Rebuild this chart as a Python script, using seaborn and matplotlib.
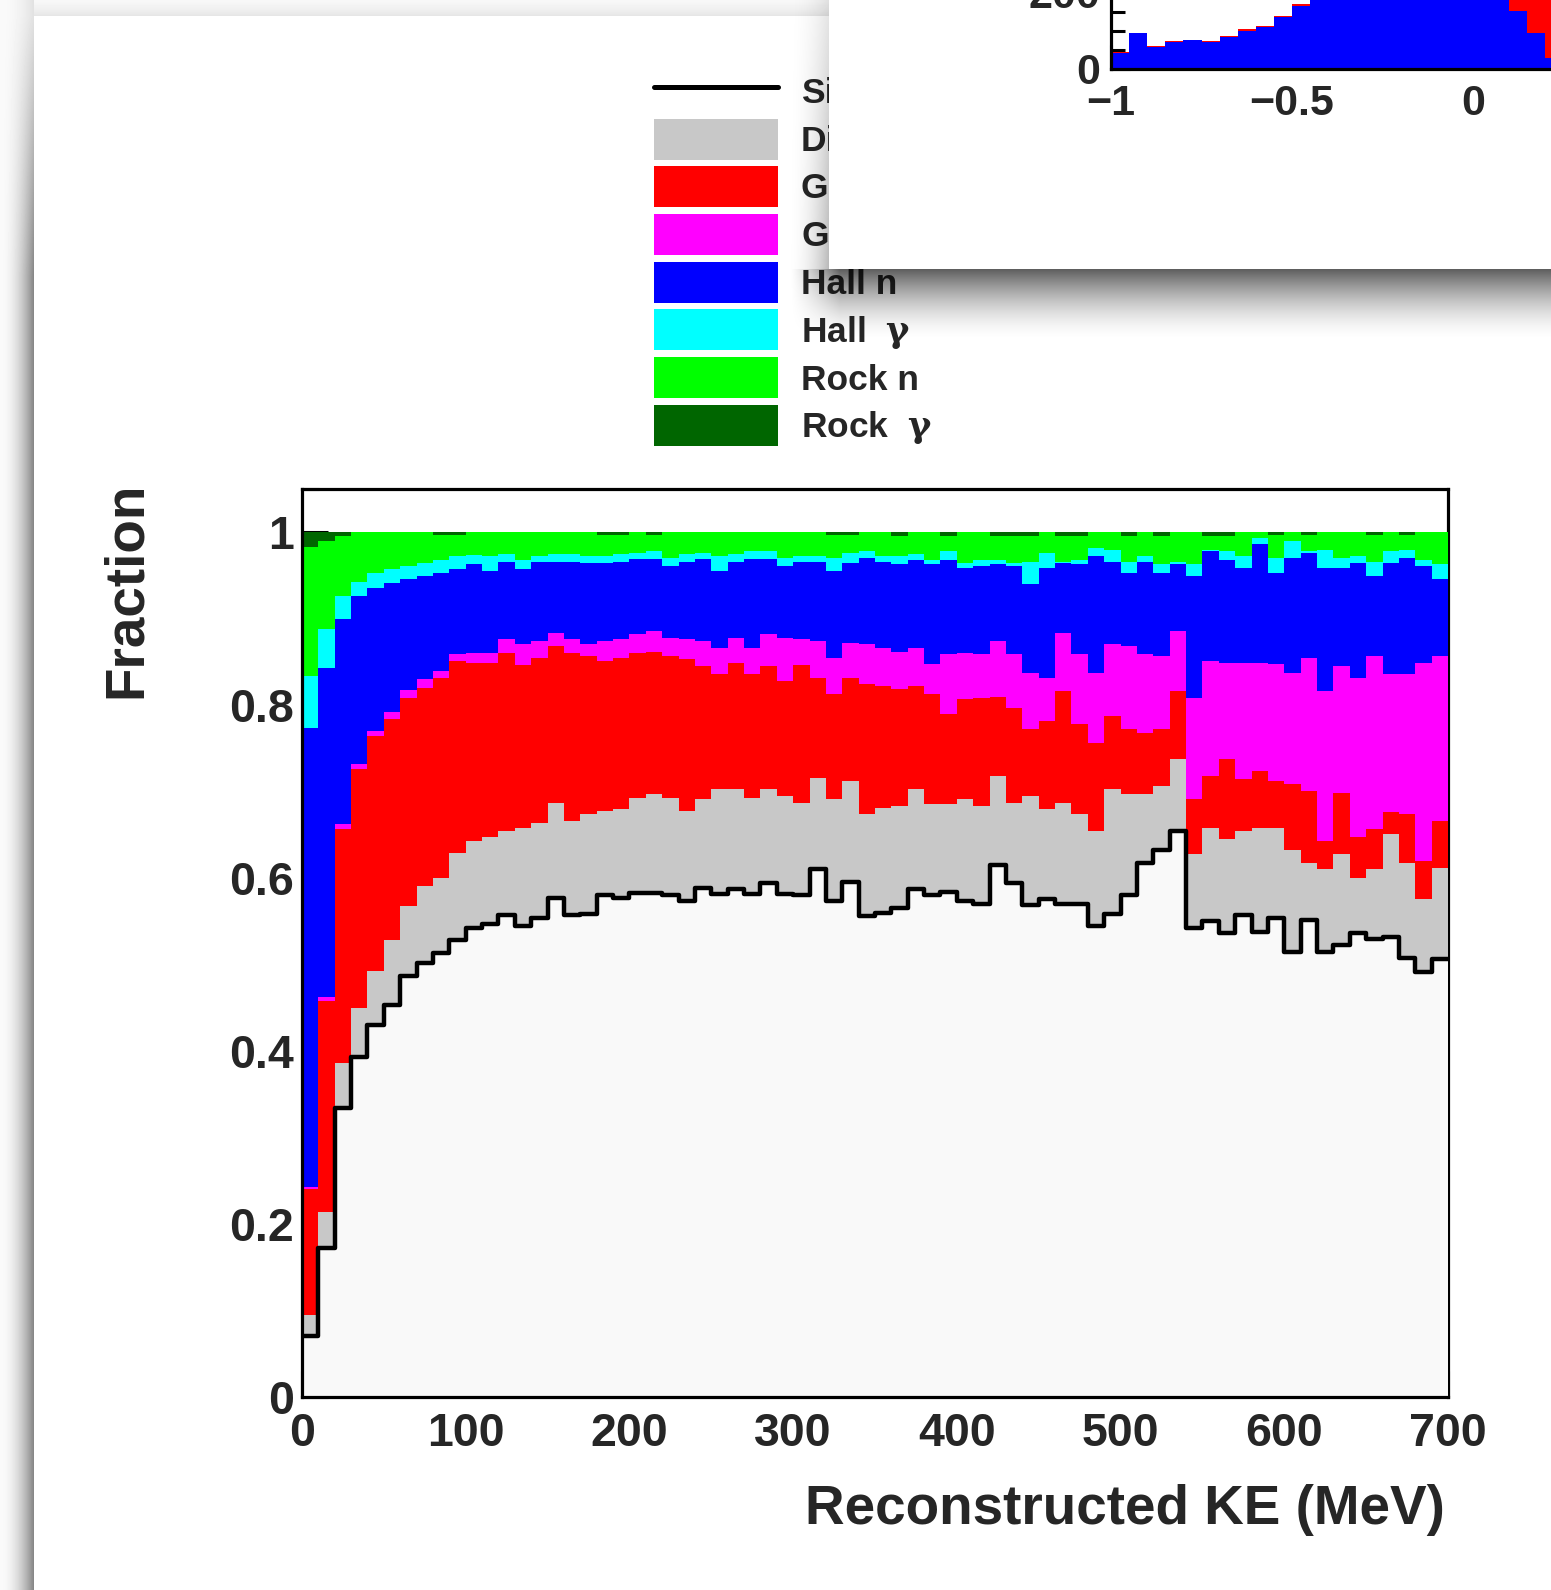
import numpy as np
import pandas as pd
import matplotlib
matplotlib.use("Agg")
import matplotlib.pyplot as plt
import seaborn as sns
from matplotlib.patches import Patch
from matplotlib.lines import Line2D
from matplotlib.ticker import MultipleLocator, FuncFormatter

# ---------------- data (cumulative fraction at top of each layer, 10 MeV bins) -------------
ke_edges = list(range(0, 710, 10))

top_signal = [0.070, 0.172, 0.334, 0.393, 0.430, 0.453, 0.487, 0.502, 0.513, 0.528,
              0.542, 0.547, 0.557, 0.545, 0.554, 0.577, 0.557, 0.559, 0.580, 0.577,
              0.583, 0.583, 0.580, 0.573, 0.589, 0.582, 0.588, 0.582, 0.594, 0.582,
              0.580, 0.611, 0.574, 0.595, 0.556, 0.560, 0.566, 0.588, 0.580, 0.584,
              0.574, 0.570, 0.615, 0.594, 0.569, 0.576, 0.570, 0.570, 0.545, 0.559,
              0.580, 0.618, 0.633, 0.654, 0.542, 0.550, 0.536, 0.557, 0.538, 0.554,
              0.515, 0.552, 0.515, 0.523, 0.537, 0.530, 0.532, 0.508, 0.491, 0.507]

top_dirt = [0.095, 0.214, 0.386, 0.450, 0.493, 0.528, 0.568, 0.591, 0.600, 0.629,
            0.643, 0.647, 0.655, 0.658, 0.664, 0.687, 0.666, 0.674, 0.678, 0.680,
            0.693, 0.697, 0.693, 0.678, 0.692, 0.703, 0.703, 0.693, 0.703, 0.695,
            0.687, 0.716, 0.692, 0.712, 0.674, 0.681, 0.683, 0.703, 0.686, 0.686,
            0.692, 0.684, 0.718, 0.687, 0.695, 0.680, 0.687, 0.674, 0.655, 0.703,
            0.697, 0.697, 0.707, 0.738, 0.628, 0.658, 0.645, 0.655, 0.658, 0.658,
            0.632, 0.618, 0.611, 0.628, 0.600, 0.611, 0.651, 0.617, 0.576, 0.612]

top_gar_n = [0.240, 0.458, 0.657, 0.726, 0.764, 0.784, 0.808, 0.820, 0.832, 0.851,
             0.849, 0.849, 0.860, 0.847, 0.855, 0.868, 0.860, 0.857, 0.851, 0.855,
             0.860, 0.862, 0.857, 0.853, 0.845, 0.836, 0.849, 0.836, 0.845, 0.828,
             0.847, 0.832, 0.813, 0.832, 0.825, 0.822, 0.819, 0.822, 0.813, 0.790,
             0.807, 0.808, 0.810, 0.797, 0.772, 0.782, 0.816, 0.778, 0.756, 0.788,
             0.772, 0.768, 0.772, 0.816, 0.692, 0.718, 0.738, 0.715, 0.724, 0.712,
             0.709, 0.701, 0.643, 0.699, 0.647, 0.657, 0.676, 0.674, 0.620, 0.666]

top_gar_g = [0.243, 0.462, 0.663, 0.732, 0.770, 0.792, 0.818, 0.830, 0.840, 0.859,
             0.860, 0.860, 0.876, 0.871, 0.874, 0.883, 0.876, 0.871, 0.874, 0.876,
             0.882, 0.886, 0.878, 0.876, 0.874, 0.866, 0.878, 0.866, 0.882, 0.878,
             0.876, 0.874, 0.855, 0.872, 0.871, 0.866, 0.862, 0.866, 0.848, 0.859,
             0.860, 0.859, 0.874, 0.859, 0.837, 0.832, 0.883, 0.859, 0.837, 0.871,
             0.869, 0.859, 0.857, 0.886, 0.808, 0.851, 0.849, 0.849, 0.849, 0.848,
             0.837, 0.855, 0.816, 0.845, 0.832, 0.857, 0.836, 0.836, 0.849, 0.857]

top_hall_n = [0.774, 0.843, 0.900, 0.926, 0.935, 0.941, 0.946, 0.949, 0.953, 0.957,
              0.963, 0.955, 0.966, 0.957, 0.966, 0.966, 0.966, 0.964, 0.964, 0.966,
              0.969, 0.969, 0.961, 0.966, 0.969, 0.955, 0.966, 0.969, 0.969, 0.961,
              0.966, 0.966, 0.955, 0.964, 0.970, 0.966, 0.963, 0.968, 0.963, 0.968,
              0.959, 0.961, 0.963, 0.961, 0.940, 0.959, 0.965, 0.963, 0.972, 0.966,
              0.953, 0.966, 0.953, 0.963, 0.949, 0.978, 0.968, 0.959, 0.986, 0.953,
              0.970, 0.976, 0.959, 0.959, 0.965, 0.949, 0.965, 0.970, 0.961, 0.946]

top_hall_g = [0.834, 0.888, 0.926, 0.943, 0.953, 0.957, 0.961, 0.965, 0.968, 0.972,
              0.974, 0.972, 0.975, 0.968, 0.972, 0.975, 0.975, 0.972, 0.972, 0.975,
              0.976, 0.978, 0.970, 0.975, 0.976, 0.972, 0.975, 0.978, 0.978, 0.970,
              0.972, 0.972, 0.970, 0.976, 0.978, 0.972, 0.972, 0.975, 0.968, 0.978,
              0.965, 0.968, 0.968, 0.965, 0.966, 0.976, 0.966, 0.968, 0.982, 0.980,
              0.966, 0.972, 0.963, 0.966, 0.963, 0.980, 0.978, 0.972, 0.993, 0.970,
              0.990, 0.978, 0.980, 0.970, 0.972, 0.966, 0.978, 0.980, 0.968, 0.963]

top_rock_n = [0.983, 0.990, 0.996, 1.000, 1.000, 1.000, 1.000, 1.000, 0.997, 0.997,
              1.000, 1.000, 1.000, 1.000, 1.000, 1.000, 1.000, 1.000, 0.997, 0.997,
              1.000, 0.997, 1.000, 1.000, 1.000, 1.000, 1.000, 1.000, 1.000, 1.000,
              1.000, 1.000, 0.997, 0.997, 1.000, 1.000, 0.996, 1.000, 1.000, 0.996,
              1.000, 1.000, 0.996, 0.996, 0.996, 1.000, 0.996, 0.996, 1.000, 1.000,
              0.996, 1.000, 0.996, 1.000, 1.000, 0.996, 0.996, 1.000, 1.000, 0.997,
              1.000, 0.997, 1.000, 1.000, 1.000, 0.997, 1.000, 0.997, 1.000, 1.000]

top_rock_g = [1.0] * 70

categories = ["Signal", "Dirt", "GAr n", "GAr  $\\mathrm{\\gamma}$", "Hall n",
              "Hall  $\\mathrm{\\gamma}$", "Rock n", "Rock  $\\mathrm{\\gamma}$"]
colors = ["#f9f9f9", "#c8c8c8", "#ff0000", "#ff00ff", "#0000ff",
          "#00ffff", "#00ff00", "#006600"]

# inset (partially visible window): 0.05-wide bins from -1
inset_edges = [round(-1 + 0.05 * i, 2) for i in range(26)]
inset_blue = [42, 94, 57, 70, 75, 72, 83, 101, 110, 136, 166, 200, 230,
              255, 280, 300, 315, 330, 340, 345, 340, 320, 153, 96, 29]
inset_red = [4, 0, 4, 4, 2, 2, 3, 4, 4, 4, 4, 4, 4,
             4, 4, 4, 4, 5, 5, 6, 8, 20, 150, 200, 250]

# ---------------- figure ----------------
W, H, DPI = 1551, 1590, 100
sns.set_style("ticks")
plt.rcParams['font.family'] = ['Liberation Sans', 'DejaVu Sans']
plt.rcParams['font.weight'] = 'bold'
plt.rcParams['axes.labelweight'] = 'bold'
plt.rcParams['mathtext.fontset'] = 'custom'
plt.rcParams['mathtext.rm'] = 'DejaVu Serif'
plt.rcParams['mathtext.it'] = 'DejaVu Serif:italic'

fig = plt.figure(figsize=(W / DPI, H / DPI), dpi=DPI)
fig.patch.set_facecolor("white")

def fx(px):
    return px / W

def fy(py):
    return 1 - py / H

# background: screenshot canvas with shadow
bg = fig.add_axes([0, 0, 1, 1], zorder=-5)
yy, xx = np.mgrid[0:H, 0:W].astype(np.float32)
CX, CY = 34.0, 16.0
amp = 0.10 + 0.38 * np.clip((yy - CY) / 260.0, 0, 1)
left = amp * np.clip(xx / CX, 0, 1) ** 2.0 + 0.02
top = 0.03 + 0.075 * np.clip(yy / CY, 0, 1) ** 1.5
alpha_bg = np.where(xx < CX, left, top)
alpha_bg = np.where((xx >= CX) & (yy >= CY), 0.0, alpha_bg)
bg.imshow(1 - alpha_bg, cmap="gray", vmin=0, vmax=1, extent=(0, W, H, 0),
          aspect="auto", interpolation="nearest")
bg.set_xlim(0, W)
bg.set_ylim(H, 0)
bg.set_axis_off()

# ---------------- main stacked fraction histogram ----------------
edges = [float(e) for e in ke_edges]
centers = [(a + b) / 2 for a, b in zip(edges[:-1], edges[1:])]
tops = np.vstack([top_signal, top_dirt, top_gar_n, top_gar_g, top_hall_n,
                  top_hall_g, top_rock_n, top_rock_g])
fractions = np.diff(np.vstack([np.zeros(len(centers)), tops]), axis=0)

rows = []
for name, frac in zip(categories, fractions):
    for c, f in zip(centers, frac):
        rows.append({"KE": c, "fraction": float(f), "component": name})
df = pd.DataFrame(rows)
palette = dict(zip(categories, colors))

ax = fig.add_axes([fx(302), fy(1397), fx(1448 - 302), (1397 - 489) / H], zorder=1)
ax.set_facecolor("white")
sns.histplot(data=df, x="KE", weights="fraction", hue="component",
             hue_order=categories[::-1], multiple="stack", bins=edges,
             element="step", fill=True, palette=palette, alpha=1,
             linewidth=0, edgecolor="none", antialiased=False,
             legend=False, ax=ax)
sdf = pd.DataFrame({"KE": centers, "signal": top_signal})
sns.histplot(data=sdf, x="KE", weights="signal", bins=edges, element="step",
             fill=False, color="black", linewidth=3.2, ax=ax)

ax.set_xlim(0, 700)
ax.set_ylim(0, 1.05)
ax.xaxis.set_major_locator(MultipleLocator(100))
ax.xaxis.set_minor_locator(MultipleLocator(20))
ax.yaxis.set_major_locator(MultipleLocator(0.2))
ax.yaxis.set_minor_locator(MultipleLocator(0.05))
ax.yaxis.set_major_formatter(FuncFormatter(lambda v, p: f"{v:g}"))
ax.tick_params(which="both", direction="in", top=False, right=False,
               color="black", width=2.2, labelsize=33.5)
ax.tick_params(axis="x", which="major", length=19, pad=11)
ax.tick_params(axis="x", which="minor", length=8.5)
ax.tick_params(axis="y", which="major", length=19, pad=6)
ax.tick_params(axis="y", which="minor", length=12)
for lab in ax.get_xticklabels() + ax.get_yticklabels():
    lab.set_fontweight("bold")
for s in ax.spines.values():
    s.set_linewidth(2.3)
    s.set_color("black")
ax.spines["right"].set_zorder(0.5)

ax.set_xlabel("Reconstructed KE (MeV)", fontsize=39.5, fontweight="bold")
ax.xaxis.set_label_coords(0.997, -0.124)
ax.xaxis.label.set_horizontalalignment("right")
ax.xaxis.label.set_verticalalignment("center")
ax.set_ylabel("Fraction", fontsize=39.5, fontweight="bold")
ax.yaxis.set_label_coords(-0.153, 1.008)
ax.yaxis.label.set_horizontalalignment("right")
ax.yaxis.label.set_verticalalignment("center")
ax.yaxis.label.set_rotation_mode("anchor")

# ---------------- legend ----------------
handles = [Line2D([0], [0], color="black", lw=3.6)]
handles += [Patch(facecolor=c, edgecolor="none") for c in colors[1:]]
leg = fig.legend(handles, categories, loc="upper left",
                 bbox_to_anchor=(fx(654), fy(71)), frameon=False,
                 fontsize=25.5, handlelength=3.5, handleheight=1.4,
                 handletextpad=0.65, labelspacing=0.19, borderpad=0,
                 borderaxespad=0)
leg.set_zorder(3)

# ---------------- overlapping window (inset) with shadow ----------------
ox0, oy1 = 760, 360
ov = fig.add_axes([fx(ox0), fy(oy1), fx(W - ox0), oy1 / H], zorder=4)
oyy, oxx = np.mgrid[0:oy1, ox0:W].astype(np.float32) + 0.5
WX, WY = 829.0, 269.0
rgba = np.zeros((oy1, W - ox0, 4), np.float32)
t = np.clip((oyy - WY) / 72.0, 0, 1)
bottom = 0.64 * (1 - t) ** 1.7 * (oyy > WY) * np.clip((oxx - 790) / 50.0, 0, 1) ** 1.3
s = np.clip((oxx - 785) / (WX - 785), 0, 1)
lefts = 0.28 * s ** 2.2 * (0.35 + 0.65 * np.clip(oyy / WY, 0, 1)) * (oyy <= WY) * (oxx < WX)
rgba[..., 3] = np.maximum(bottom, lefts)
inside = (oxx >= WX) & (oyy <= WY)
rgba[inside] = [1, 1, 1, 1]
ov.imshow(rgba, extent=(ox0, W, oy1, 0), aspect="auto", interpolation="bilinear")
ov.set_xlim(ox0, W)
ov.set_ylim(oy1, 0)
ov.set_axis_off()

iedges = [float(e) for e in inset_edges]
icenters = [(a + b) / 2 for a, b in zip(iedges[:-1], iedges[1:])]
idf = pd.DataFrame({
    "x": icenters + icenters,
    "w": [float(v) for v in inset_blue + inset_red],
    "c": ["blue part"] * len(icenters) + ["red part"] * len(icenters),
})
axi = fig.add_axes([fx(1111), fy(69), 724 / W, 152 / H], zorder=6)
axi.set_facecolor("none")
sns.histplot(data=idf, x="x", weights="w", hue="c",
             hue_order=["red part", "blue part"], multiple="stack",
             bins=iedges, element="step", fill=True,
             palette={"blue part": "#0000ff", "red part": "#ff0000"},
             alpha=1, linewidth=0, edgecolor="none", antialiased=False,
             legend=False, ax=axi)
axi.set_xlim(-1, 1)
axi.set_ylim(0, 400)
axi.set_xlabel("")
axi.set_ylabel("")
axi.xaxis.set_major_locator(MultipleLocator(0.5))
axi.xaxis.set_minor_locator(MultipleLocator(0.1))
axi.yaxis.set_major_locator(MultipleLocator(200))
axi.yaxis.set_minor_locator(MultipleLocator(50))
axi.xaxis.set_major_formatter(FuncFormatter(lambda v, p: f"{v:g}".replace("-", "\u2212")))
axi.yaxis.set_major_formatter(FuncFormatter(lambda v, p: f"{v:g}"))
axi.tick_params(which="both", direction="in", top=False, right=False,
                color="black", width=2.2, labelsize=31)
axi.tick_params(axis="x", which="major", length=17, pad=11)
axi.tick_params(axis="x", which="minor", length=9)
axi.tick_params(axis="y", which="major", length=14, pad=8)
axi.tick_params(axis="y", which="minor", length=10)
for lab in axi.get_xticklabels() + axi.get_yticklabels():
    lab.set_fontweight("bold")
for s_ in axi.spines.values():
    s_.set_linewidth(2.3)
    s_.set_color("black")

fig.savefig("out.png", dpi=DPI)
